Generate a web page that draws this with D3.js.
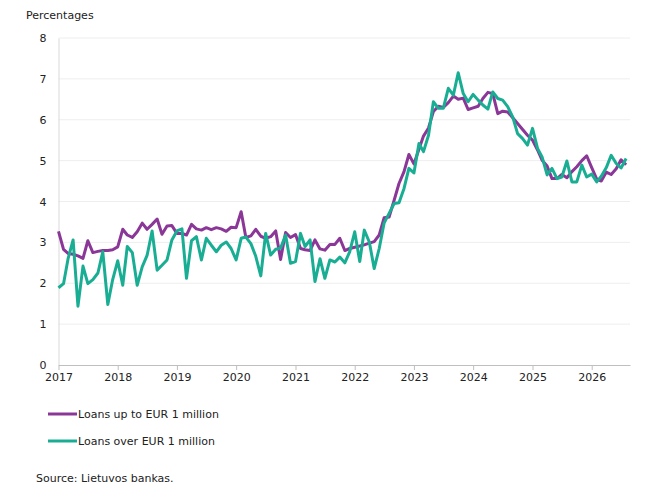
<!DOCTYPE html>
<html><head><meta charset="utf-8">
<script src="https://cdn.jsdelivr.net/npm/d3@7"></script>
<style>body{margin:0;background:#fff;} text{font-family:"DejaVu Sans",Verdana,sans-serif;}</style>
</head><body>
<svg id="c" width="650" height="500"></svg>
<script>
const startMonth = "2017-01";
const loansUpTo1M = [3.27,2.83,2.73,2.71,2.67,2.61,3.04,2.75,2.78,2.80,2.80,2.82,
2.89,3.32,3.18,3.12,3.26,3.47,3.32,3.44,3.57,3.20,3.40,3.41,
3.22,3.22,3.18,3.44,3.33,3.30,3.36,3.31,3.36,3.33,3.27,3.37,
3.36,3.75,3.12,3.16,3.32,3.15,3.10,3.14,3.28,2.58,3.24,3.12,
3.19,2.85,2.82,2.80,3.06,2.84,2.81,2.95,2.95,3.10,2.80,2.85,
2.88,2.91,2.94,2.98,3.02,3.18,3.60,3.62,4.03,4.44,4.73,5.15,
4.92,5.28,5.60,5.80,6.20,6.33,6.30,6.42,6.58,6.50,6.53,6.25,
6.29,6.33,6.52,6.67,6.64,6.15,6.21,6.19,6.05,5.91,5.76,5.62,
5.50,5.26,5.01,4.87,4.56,4.56,4.66,4.58,4.73,4.85,5.00,5.12,
4.83,4.55,4.50,4.72,4.66,4.80,5.02,4.90];
const loansOver1M = [1.89,1.99,2.60,3.06,1.44,2.42,1.99,2.09,2.25,2.77,1.48,2.09,
2.55,1.95,2.90,2.75,1.95,2.40,2.68,3.28,2.32,2.44,2.57,3.06,
3.28,3.33,2.12,3.04,3.14,2.57,3.10,2.93,2.77,2.93,3.01,2.85,
2.57,3.10,3.13,2.97,2.66,2.18,3.22,2.69,2.83,2.86,3.18,2.49,
2.53,3.22,2.90,3.06,2.04,2.60,2.12,2.57,2.52,2.64,2.50,2.77,
3.26,2.53,3.30,3.01,2.36,2.85,3.47,3.71,3.95,3.97,4.32,4.81,
4.70,5.42,5.22,5.62,6.44,6.28,6.28,6.77,6.60,7.15,6.64,6.44,
6.62,6.48,6.36,6.26,6.68,6.52,6.48,6.32,6.07,5.66,5.54,5.38,
5.79,5.30,5.09,4.65,4.81,4.56,4.60,4.99,4.48,4.48,4.89,4.60,
4.67,4.48,4.62,4.83,5.13,4.93,4.82,5.05];
const yTicks = [0,1,2,3,4,5,6,7,8];
const yearTicks = [2017,2018,2019,2020,2021,2022,2023,2024,2025,2026];
const seriesNames = ["Loans up to EUR 1 million","Loans over EUR 1 million"];
const colors = ["#8a3797","#19ae93"];

const svg = d3.select("#c");
const parse = d3.timeParse("%Y-%m");
const d0 = parse(startMonth);
const dates = loansUpTo1M.map((_,i)=>d3.timeMonth.offset(d0,i));
const x = d3.scaleTime().domain([d0, d3.timeDay.offset(dates[dates.length-1],24)]).range([58.5,630]);
const y = d3.scaleLinear().domain([0,8]).range([365,38]);

// gridlines
svg.append("g").selectAll("line").data(yTicks.filter(v=>v>0)).join("line")
  .attr("x1",58.5).attr("x2",630).attr("y1",d=>y(d)).attr("y2",d=>y(d))
  .attr("stroke","#eeeeee").attr("stroke-width",1);

// y axis
const ya = svg.append("g").attr("transform","translate(58.5,0)")
  .call(d3.axisLeft(y).tickValues(yTicks).tickSize(0).tickPadding(12));
ya.select(".domain").attr("stroke","#d9d9d9");
ya.selectAll("text").attr("font-size",11).attr("fill","#222").attr("font-family","DejaVu Sans");

// x axis
const xa = svg.append("g").attr("transform","translate(0,365)")
  .call(d3.axisBottom(x).tickValues(yearTicks.map(yr=>new Date(yr,0,1))).tickFormat(d3.timeFormat("%Y")).tickSizeInner(5).tickSizeOuter(0).tickPadding(3));
xa.select(".domain").attr("stroke","#bfbfbf");
xa.selectAll(".tick line").attr("stroke","#bfbfbf");
xa.selectAll("text").attr("font-size",11).attr("fill","#222").attr("font-family","DejaVu Sans");

// lines
const line = d3.line().x((d,i)=>x(dates[i])).y(d=>y(d));
[loansUpTo1M, loansOver1M].forEach((s,k)=>{
  svg.append("path").datum(s).attr("d",line).attr("fill","none")
    .attr("stroke",colors[k]).attr("stroke-width",3).attr("stroke-linejoin","round");
});

// y title
svg.append("text").attr("x",26).attr("y",19).attr("font-size",11).attr("fill","#222").text("Percentages");

// legend
seriesNames.forEach((n,k)=>{
  const ly = 414 + k*27;
  svg.append("line").attr("x1",48).attr("x2",77).attr("y1",ly).attr("y2",ly)
    .attr("stroke",colors[k]).attr("stroke-width",3);
  svg.append("text").attr("x",78).attr("y",ly+4).attr("font-size",11).attr("fill","#222").text(n);
});

svg.append("text").attr("x",36).attr("y",482).attr("font-size",11).attr("fill","#222").text("Source: Lietuvos bankas.");
</script>
</body></html>
